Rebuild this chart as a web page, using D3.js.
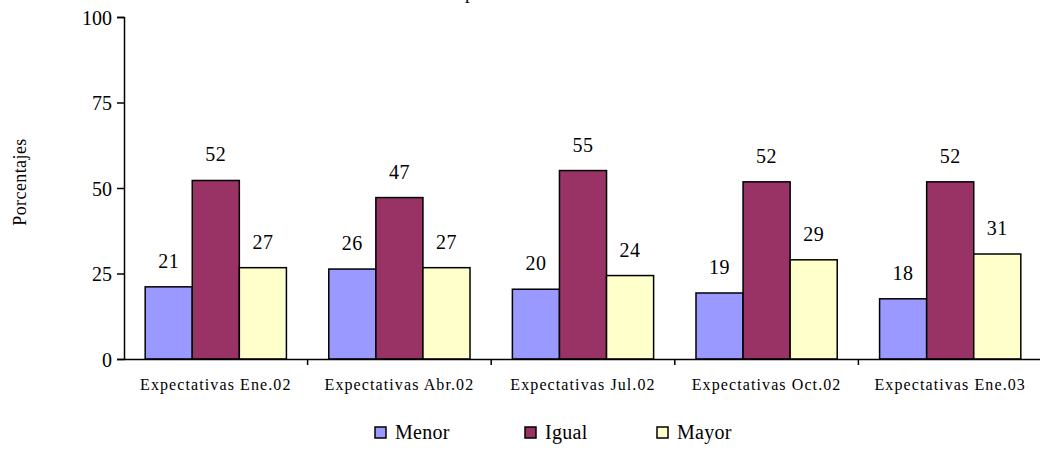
<!DOCTYPE html>
<html lang="en">
<head>
<meta charset="utf-8">
<style>
  body { margin: 0; background: #fff; }
  svg text { font-family: "Liberation Serif", "DejaVu Serif", serif; fill: #000; }
</style>
</head>
<body>
<script src="https://d3js.org/d3.v7.min.js"></script>
<script>
  // data
  const categories = ["Expectativas Ene.02", "Expectativas Abr.02", "Expectativas Jul.02", "Expectativas Oct.02", "Expectativas Ene.03"];
  const seriesNames = ["Menor", "Igual", "Mayor"];
  const menor = [21.1, 26.3, 20.4, 19.3, 17.6];
  const igual = [52.2, 47.2, 55.1, 51.8, 51.8];
  const mayor = [26.7, 26.7, 24.4, 29.0, 30.7];
  const yTicks = [0, 25, 50, 75, 100];
  const colors = ["#9999FF", "#993366", "#FFFFCC"];

  const width = 1040, height = 450;
  const margin = {top: 17, right: 0, bottom: 91, left: 124};

  const svg = d3.select("body").append("svg")
    .attr("width", width)
    .attr("height", height);

  const x = d3.scaleBand()
    .domain(categories)
    .range([margin.left, 1042])
    .paddingInner(0)
    .paddingOuter(0);

  const xs = d3.scaleBand()
    .domain(seriesNames)
    .range([0, x.bandwidth()])
    .paddingInner(0)
    .paddingOuter(0.45);

  const y = d3.scaleLinear()
    .domain([0, 100])
    .range([height - margin.bottom, margin.top]);

  // title, cut off by the top edge in the original (only a descender shows)
  svg.append("text")
    .attr("x", 443)
    .attr("y", -1)
    .style("font-size", "19px")
    .style("letter-spacing", "0.5px")
    .text("Expectativas");

  const rows = categories.map((c, i) => ({cat: c, vals: [menor[i], igual[i], mayor[i]]}));

  const groups = svg.selectAll("g.grp")
    .data(rows)
    .join("g")
      .attr("class", "grp")
      .attr("transform", d => `translate(${x(d.cat)},0)`);

  groups.selectAll("rect")
    .data(d => d.vals.map((v, j) => ({s: seriesNames[j], v: v, j: j})))
    .join("rect")
      .attr("x", d => xs(d.s))
      .attr("y", d => y(d.v))
      .attr("width", xs.bandwidth())
      .attr("height", d => y(0) - y(d.v))
      .attr("fill", d => colors[d.j])
      .attr("stroke", "#000")
      .attr("stroke-width", 1.5);

  groups.selectAll("text.val")
    .data(d => d.vals.map((v, j) => ({s: seriesNames[j], v: v})))
    .join("text")
      .attr("class", "val")
      .attr("x", d => xs(d.s) + xs.bandwidth() / 2)
      .attr("y", d => y(d.v) - 19)
      .attr("text-anchor", "middle")
      .style("font-size", "20px")
      .style("letter-spacing", "0.5px")
      .text(d => Math.round(d.v));

  // y axis
  const yAxis = svg.append("g")
    .attr("transform", `translate(${margin.left},0)`)
    .call(d3.axisLeft(y).tickValues(yTicks).tickSize(7).tickPadding(5));
  yAxis.select(".domain").attr("stroke-width", 1.5);
  yAxis.selectAll(".tick line").attr("stroke-width", 1.5);
  yAxis.selectAll(".tick text").style("font-size", "20px").attr("dy", "0.35em");

  // x axis
  const xAxis = svg.append("g")
    .attr("transform", `translate(0,${y(0)})`)
    .call(d3.axisBottom(x).tickSizeInner(0).tickSizeOuter(0).tickPadding(20));
  xAxis.select(".domain").attr("stroke-width", 1.5);
  xAxis.selectAll(".tick text").style("font-size", "16px").style("letter-spacing", "1.1px");
  xAxis.selectAll("line.sep")
    .data(categories)
    .join("line")
      .attr("class", "sep")
      .attr("x1", d => x(d) + x.bandwidth())
      .attr("x2", d => x(d) + x.bandwidth())
      .attr("y1", 0)
      .attr("y2", 6)
      .attr("stroke", "#000")
      .attr("stroke-width", 1.5);

  // y title
  svg.append("text")
    .attr("transform", "translate(26,182) rotate(-90)")
    .attr("text-anchor", "middle")
    .style("font-size", "18px")
    .style("letter-spacing", "0.4px")
    .text("Porcentajes");

  // legend
  const legendX = [375, 525, 657];
  const legend = svg.selectAll("g.leg")
    .data(seriesNames)
    .join("g")
      .attr("class", "leg")
      .attr("transform", (d, i) => `translate(${legendX[i]},427)`);
  legend.append("rect")
    .attr("width", 11)
    .attr("height", 11)
    .attr("fill", (d, i) => colors[i])
    .attr("stroke", "#000")
    .attr("stroke-width", 1.5);
  legend.append("text")
    .attr("x", 20)
    .attr("y", 12)
    .style("font-size", "20px")
    .style("letter-spacing", "0.3px")
    .text(d => d);
</script>
</body>
</html>
